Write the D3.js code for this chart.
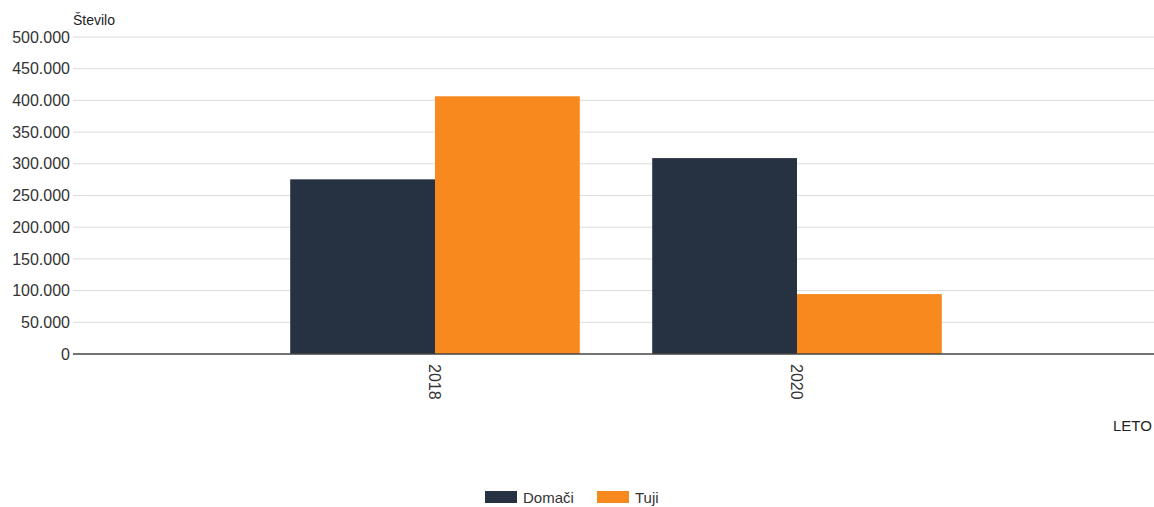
<!DOCTYPE html>
<html>
<head>
<meta charset="utf-8">
<script src="https://cdn.jsdelivr.net/npm/d3@7"></script>
<style>
  body { margin: 0; background: #fff; overflow: hidden; }
  svg { font-family: "Liberation Sans", Arial, sans-serif; }
</style>
</head>
<body>
<div id="chart"></div>
<script>
const years = ['2018', '2020'];
const seriesNames = ['Domači', 'Tuji'];
const domaci = [275500, 309000];
const tuji = [406500, 94500];
const yTicks = [0, 50000, 100000, 150000, 200000, 250000, 300000, 350000, 400000, 450000, 500000];
const colors = ['#263142', '#f7891f'];

const width = 1154, height = 507;
const margin = { top: 37, right: -5, bottom: 153, left: 73 };
const innerW = width - margin.left - margin.right;
const innerH = height - margin.top - margin.bottom;

const svg = d3.select('#chart').append('svg')
    .attr('width', width)
    .attr('height', height);

const g = svg.append('g')
    .attr('transform', `translate(${margin.left},${margin.top})`);

const x = d3.scaleBand().domain(years).range([0, innerW])
    .paddingInner(0.2).paddingOuter(0.6);
const xSub = d3.scaleBand().domain(seriesNames).range([0, x.bandwidth()]);
const y = d3.scaleLinear().domain([0, 500000]).range([innerH, 0]);

const fmt = v => d3.format(',')(v).replace(/,/g, '.');

// grid
g.append('g').selectAll('line').data(yTicks.filter(d => d > 0)).join('line')
    .attr('x1', 0).attr('x2', innerW)
    .attr('y1', d => y(d)).attr('y2', d => y(d))
    .attr('stroke', '#dcdcdc').attr('stroke-width', 1);

// y labels
g.append('g').selectAll('text').data(yTicks).join('text')
    .attr('x', -3).attr('y', d => y(d)).attr('dy', '0.35em')
    .attr('text-anchor', 'end')
    .style('font-size', '16px').style('fill', '#333')
    .text(fmt);

g.append('text').attr('x', 0).attr('y', -12)
    .style('font-size', '14px').style('fill', '#222')
    .text('Število');

// bars
const rows = years.map((yr, i) => ({ year: yr, values: [domaci[i], tuji[i]] }));
const grp = g.selectAll('.grp').data(rows).join('g')
    .attr('transform', d => `translate(${x(d.year)},0)`);
grp.selectAll('rect').data(d => d.values.map((v, i) => ({ name: seriesNames[i], v, i })))
    .join('rect')
    .attr('x', d => xSub(d.name))
    .attr('width', xSub.bandwidth())
    .attr('y', d => y(d.v))
    .attr('height', d => innerH - y(d.v))
    .attr('fill', d => colors[d.i]);

// x axis line
g.append('line').attr('x1', 0).attr('x2', innerW)
    .attr('y1', innerH).attr('y2', innerH)
    .attr('stroke', '#444').attr('stroke-width', 1.5);

// x labels rotated
g.append('g').selectAll('text').data(years).join('text')
    .attr('transform', d => `translate(${x(d) + x.bandwidth() / 2},${innerH + 10}) rotate(90)`)
    .attr('dy', '0.35em')
    .attr('text-anchor', 'start')
    .style('font-size', '16px').style('fill', '#333')
    .text(d => d);

svg.append('text').attr('x', 1113).attr('y', 431)
    .style('font-size', '15px').style('fill', '#222')
    .text('LETO');

// legend
const legend = svg.append('g').attr('transform', 'translate(485,491)');
const legX = [0, 112];
seriesNames.forEach((n, i) => {
    legend.append('rect').attr('x', legX[i]).attr('y', 0)
        .attr('width', 32).attr('height', 12).attr('fill', colors[i]);
    legend.append('text').attr('x', legX[i] + 38).attr('y', 12)
        .style('font-size', '15px').style('fill', '#333')
        .text(n);
});
</script>
</body>
</html>
